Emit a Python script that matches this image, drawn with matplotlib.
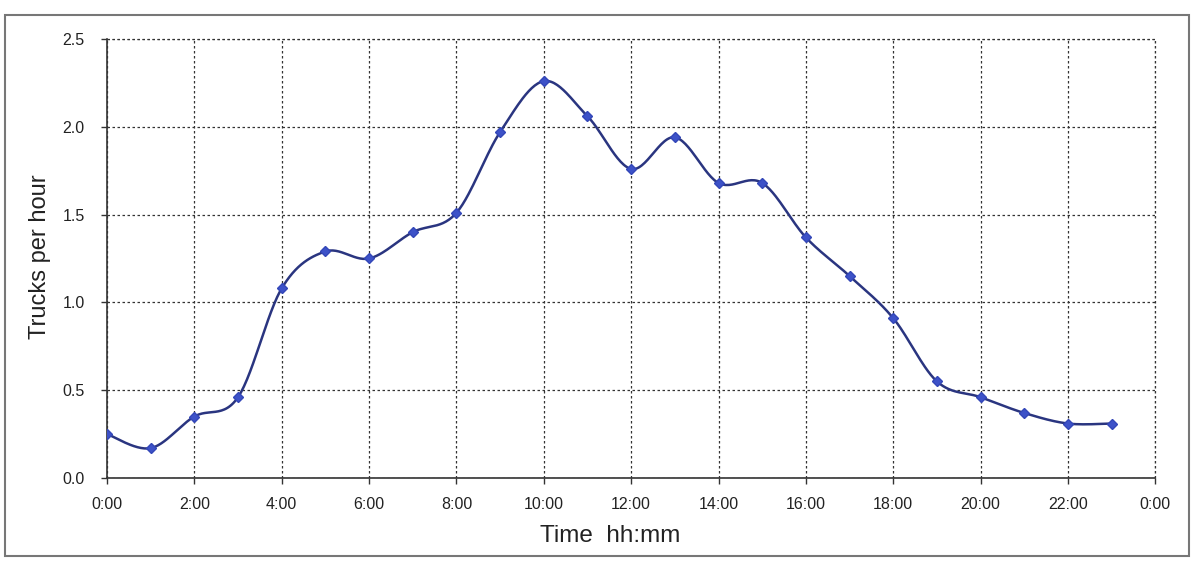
import numpy as np
import matplotlib
matplotlib.use("Agg")
import matplotlib.pyplot as plt
from matplotlib.patches import Rectangle

# Hourly truck arrivals
hours = list(range(24))
trucks_per_hour = [0.25, 0.17, 0.35, 0.46, 1.08, 1.29, 1.25, 1.40, 1.51, 1.97,
                   2.26, 2.06, 1.76, 1.94, 1.68, 1.68, 1.37, 1.15, 0.91, 0.55,
                   0.46, 0.37, 0.31, 0.31]
x_ticks = list(range(0, 25, 2))
x_tick_labels = ["0:00", "2:00", "4:00", "6:00", "8:00", "10:00", "12:00",
                 "14:00", "16:00", "18:00", "20:00", "22:00", "0:00"]
y_ticks = [0.0, 0.5, 1.0, 1.5, 2.0, 2.5]


def smooth_curve(x, y, steps=30):
    """Catmull-Rom style Bezier smoothing through every point."""
    x = np.asarray(x, float)
    y = np.asarray(y, float)
    px = np.concatenate([[x[0]], x, [x[-1]]])
    py = np.concatenate([[y[0]], y, [y[-1]]])
    t = np.linspace(0, 1, steps)[:, None]
    xs, ys = [], []
    for i in range(1, len(px) - 2):
        p0 = np.array([px[i - 1], py[i - 1]])
        p1 = np.array([px[i], py[i]])
        p2 = np.array([px[i + 1], py[i + 1]])
        p3 = np.array([px[i + 2], py[i + 2]])
        c1 = p1 + (p2 - p0) / 6.0
        c2 = p2 - (p3 - p1) / 6.0
        seg = ((1 - t) ** 3) * p1 + 3 * ((1 - t) ** 2) * t * c1 \
            + 3 * (1 - t) * t ** 2 * c2 + t ** 3 * p2
        xs.append(seg[:, 0])
        ys.append(seg[:, 1])
    return np.concatenate(xs), np.concatenate(ys)


plt.rcParams['font.family'] = ['Liberation Sans', 'DejaVu Sans']

fig = plt.figure(figsize=(11.94, 5.61), dpi=100)
fig.patch.set_facecolor('white')
ax = fig.add_axes([0.0896, 0.148, 0.878, 0.7825])

sx, sy = smooth_curve(hours, trucks_per_hour)
ax.plot(sx, sy, color='#2a3580', lw=1.8, zorder=3)
ax.plot(hours, trucks_per_hour, linestyle='none', marker='D', markersize=5.5,
        color='#3d52c8', markeredgecolor='#3347b8', zorder=4)

ax.set_xlim(0, 24)
ax.set_ylim(0, 2.5)
ax.set_xticks(x_ticks)
ax.set_xticklabels(x_tick_labels)
ax.set_yticks(y_ticks)
ax.set_yticklabels([f"{v:.1f}" for v in y_ticks])
ax.tick_params(axis='both', direction='out', length=4, width=1,
               color='#333333', labelsize=11.5, labelcolor='#222222')
ax.tick_params(axis='x', pad=10)
ax.tick_params(axis='y', pad=12)

ax.grid(True, linestyle=(0, (2, 2)), color='#333333', linewidth=0.9)
ax.set_axisbelow(True)
for side in ('top', 'right'):
    ax.spines[side].set_visible(False)
for side in ('left', 'bottom'):
    ax.spines[side].set_color('#333333')
    ax.spines[side].set_linewidth(1.2)

# closing dotted edges at the top and right
ax.axhline(2.5, linestyle=(0, (2, 2)), color='#333333', linewidth=0.9, clip_on=False)
ax.axvline(24, linestyle=(0, (2, 2)), color='#333333', linewidth=0.9, clip_on=False)

ax.set_ylabel("Trucks per hour", fontsize=17, color='#222222')
ax.set_xlabel("Time  hh:mm", fontsize=17.5, color='#222222')
ax.yaxis.label.set_va('center')
ax.xaxis.label.set_va('center')
ax.yaxis.set_label_coords(-0.064, 0.505)
ax.xaxis.set_label_coords(0.48, -0.132)

# framing box around the whole chart
fig.patches.append(Rectangle((5 / 1194, 1 - 556 / 561), 1184 / 1194, 541 / 561,
                             transform=fig.transFigure, fill=False,
                             edgecolor='#777777', linewidth=1.5))

fig.savefig("out.png", dpi=100, facecolor='white')
